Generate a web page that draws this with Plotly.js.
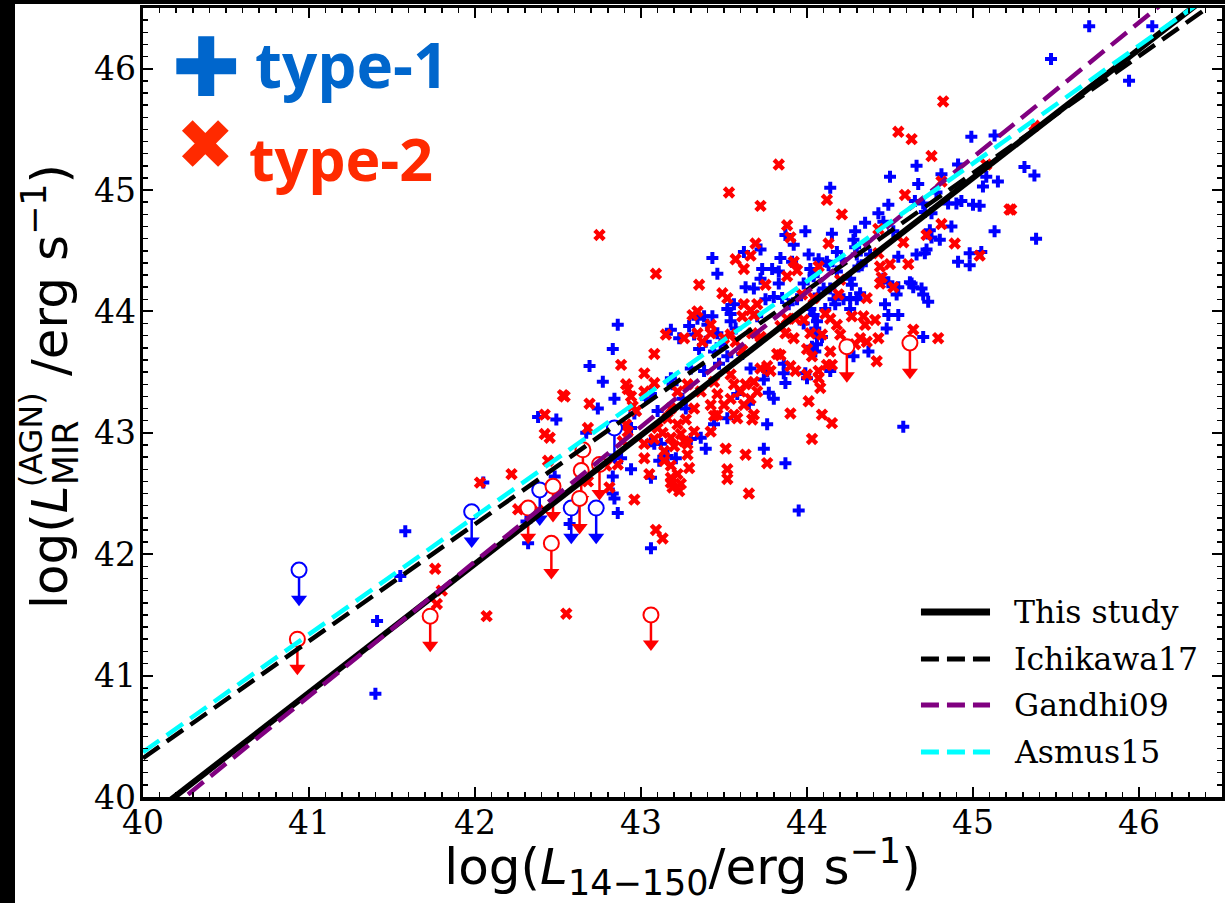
<!DOCTYPE html>
<html><head><meta charset="utf-8">
<script src="https://cdn.plot.ly/plotly-3.0.1.min.js"></script>
<style>
html,body{margin:0;padding:0;background:#000;width:1225px;height:903px;overflow:hidden;}
#chart{position:absolute;left:15px;top:4px;width:1210px;height:899px;background:#fff;}
</style></head><body><div id="chart"></div>
<script>
// ---------- data ----------
const type1X = [44.66,44.50,44.67,44.81,44.14,44.49,44.43,44.35,44.29,44.46,44.52,44.71,44.74,44.80,44.72,44.66,44.28,44.29,44.15,43.99,43.87,43.92,43.84,43.72,43.62,43.43,43.46,43.73,43.79,43.72,43.91,44.01,44.07,44.02,44.04,44.12,44.18,44.18,44.26,44.27,44.14,44.16,44.26,44.30,44.46,44.49,44.55,44.54,44.63,44.69,44.70,44.73,44.47,44.55,44.48,44.70,43.83,43.68,43.63,43.80,43.85,43.89,43.94,44.02,44.04,44.06,44.05,44.11,44.26,44.17,43.52,43.56,43.54,43.57,43.34,43.43,43.40,43.29,43.32,43.39,43.46,43.44,43.52,43.61,43.66,43.18,43.23,43.35,43.47,43.38,43.30,43.18,43.19,43.25,43.27,43.10,43.06,43.03,42.96,42.94,42.86,42.83,42.69,42.77,42.84,42.74,42.67,42.49,42.38,42.94,42.83,42.83,43.08,43.11,43.16,43.21,43.30,43.36,43.44,43.52,43.58,43.76,43.80,43.74,43.76,43.86,43.87,43.99,44.00,44.06,44.05,44.14,44.28,44.37,44.58,43.87,43.74,43.39,44.49,45.70,45.47,45.94,46.08,44.99,45.13,44.91,45.31,45.37,45.08,45.06,45.15,44.78,44.65,44.70,44.85,44.90,44.93,45.00,45.04,44.75,44.75,44.87,45.13,45.38,44.71,44.55,44.91,44.98,44.98,45.05,44.31,44.62,44.64,44.32,41.40,41.41,41.58,41.55,42.05,42.31,42.32,42.48,42.57,42.84,42.86,42.88,43.06,43.95,43.06,43.12,43.06,43.75,43.70,43.48,43.86,43.77,43.65,44.05,44.09,43.98,44.03,44.22,44.07,44.10,43.98,44.04,44.13,44.21,44.30,44.38,44.33,43.83,43.54,43.38];
const type1Y = [45.20,45.11,45.05,45.13,45.02,44.88,44.81,44.73,44.66,44.74,44.66,44.82,44.67,44.59,44.51,44.47,44.59,44.53,44.64,44.66,44.63,44.55,44.44,44.51,44.49,44.44,44.31,44.35,44.35,44.27,44.41,44.47,44.43,44.35,44.29,44.41,44.49,44.33,44.27,44.22,44.19,44.10,44.11,44.10,44.27,44.24,44.20,44.14,44.23,44.19,44.14,44.08,44.06,43.97,43.86,43.79,44.23,44.19,44.20,44.12,44.11,44.06,44.10,44.02,43.97,43.92,43.86,44.02,44.02,44.06,44.02,44.06,43.92,43.86,43.94,43.96,43.89,43.88,43.81,43.75,43.82,43.67,43.63,43.65,43.53,43.85,43.78,43.69,43.57,43.51,43.53,43.45,43.40,43.28,43.20,43.18,43.32,43.28,43.16,43.04,43.89,43.69,43.55,43.42,43.28,43.20,43.00,43.11,43.13,42.70,42.64,42.50,42.91,42.77,42.81,42.79,42.95,42.96,43.07,43.12,43.32,43.07,43.28,43.44,43.51,43.49,43.41,43.49,43.45,43.73,43.67,43.51,43.63,43.67,43.05,42.75,42.87,42.87,43.97,46.35,46.08,45.90,46.35,45.44,45.45,45.21,45.19,45.12,45.11,45.03,45.07,44.98,44.91,44.89,44.89,44.89,44.91,44.88,44.87,44.81,44.61,44.70,44.66,44.60,44.48,44.45,44.41,44.38,44.48,44.49,44.37,44.24,44.20,44.15,40.85,41.45,42.19,41.82,42.59,42.27,42.09,42.64,42.25,42.46,42.34,42.79,42.05,42.36,42.93,42.91,42.63,44.10,43.96,43.73,43.57,43.33,43.24,43.82,43.79,43.90,43.71,44.10,44.14,44.19,44.23,44.31,44.38,44.43,44.47,44.47,44.38,44.33,43.98,43.96];

const type2X = [43.83,43.53,43.72,42.75,43.09,43.35,44.12,44.21,43.88,43.90,43.69,44.13,44.59,44.75,44.81,44.81,44.72,44.58,44.61,44.50,44.44,44.45,44.52,44.36,44.44,43.57,43.62,43.66,43.75,43.88,43.92,43.94,44.07,43.97,44.04,44.20,44.19,43.49,43.52,43.62,43.70,43.61,43.68,43.66,43.31,43.34,43.15,43.08,42.88,43.42,43.42,43.26,43.34,43.37,43.50,43.54,43.57,43.67,43.72,43.61,43.84,43.88,43.93,43.98,43.87,43.92,44.02,44.11,44.14,44.18,44.20,44.09,44.27,44.34,44.35,44.41,44.32,44.29,44.36,44.43,44.42,44.64,44.79,44.00,44.03,44.14,44.12,44.15,44.07,43.84,43.90,43.93,43.76,43.78,43.72,43.68,43.70,43.66,43.63,43.54,43.56,43.60,43.54,43.50,43.56,43.58,43.68,43.67,43.62,43.44,43.46,43.42,43.36,43.44,43.42,43.32,43.28,43.22,43.18,43.16,43.22,43.10,43.13,43.08,43.18,43.24,43.26,43.20,43.14,43.14,43.18,43.22,43.18,43.19,43.24,43.23,43.28,43.29,43.02,43.02,43.05,43.51,43.63,43.76,43.52,43.52,43.65,43.46,43.90,44.09,44.15,44.03,44.01,42.69,42.54,42.42,42.42,42.45,42.68,42.22,42.44,42.91,42.92,42.91,42.92,43.02,43.08,43.02,42.53,42.94,42.95,41.76,41.80,41.77,42.07,42.03,42.26,42.55,42.38,42.81,42.86,42.79,42.96,42.89,43.09,43.13,43.18,45.37,44.55,44.63,45.08,45.22,45.23,44.43,44.43,44.89,45.04,44.00,44.07,44.08,43.82,44.82,42.68,42.97,43.27,43.32,43.28];
const type2Y = [45.21,44.98,44.87,44.63,44.31,44.22,44.92,44.80,44.71,44.61,44.56,44.56,44.96,45.28,45.07,44.72,44.63,44.57,44.39,44.39,44.37,44.28,44.20,44.11,44.23,44.43,44.35,44.46,44.22,44.29,44.41,44.34,44.37,44.14,44.11,44.26,44.14,44.15,44.11,44.06,44.06,43.96,43.97,44.01,43.97,44.00,43.81,43.65,43.56,43.89,43.82,43.78,43.82,43.75,43.78,43.81,43.75,43.82,43.79,43.68,43.88,43.94,43.94,43.93,43.82,43.78,43.82,43.98,43.94,43.89,43.81,43.81,43.96,43.96,43.89,43.93,43.78,43.73,43.75,43.78,43.59,43.85,43.78,43.69,43.63,43.67,43.56,43.56,43.51,43.64,43.55,43.51,43.55,43.51,43.53,43.42,43.34,43.28,43.40,43.48,43.40,43.34,43.28,43.23,43.15,43.12,43.15,43.11,43.23,43.42,43.32,43.23,43.34,43.14,43.01,43.20,43.40,43.34,43.20,43.12,43.07,43.04,43.00,42.95,42.96,42.99,42.93,42.89,42.85,42.77,42.73,42.66,42.59,42.55,42.58,42.52,42.82,42.71,42.91,42.79,42.66,42.87,42.82,42.75,42.70,42.62,42.50,43.15,43.16,43.15,43.08,42.95,43.26,43.24,43.30,43.15,42.99,42.96,43.04,42.66,42.77,43.40,43.36,43.07,43.01,43.34,43.41,43.49,43.31,43.30,43.22,41.88,41.70,41.59,41.49,42.59,42.37,41.51,42.36,42.55,42.74,42.73,42.45,42.93,42.20,42.13,42.63,45.53,45.48,45.42,45.21,44.84,44.84,44.68,44.48,44.56,44.46,43.48,43.45,43.37,43.65,45.73,42.60,43.18,43.11,43.01,42.91];

// upper limits (open circles with arrows)
const ulim1X = [40.94,41.98,42.39,42.58,42.73,42.84];
const ulim1Y = [41.87,42.35,42.53,42.38,42.38,43.04];
const ulim2X = [40.93,41.73,42.32,42.46,42.47,42.63,42.64,42.65,42.75,43.06,44.24,44.62];
const ulim2Y = [41.30,41.49,42.38,42.09,42.56,42.46,42.69,42.86,42.74,41.50,43.71,43.74];

// relations: logLMIR = slope * logL14-150 + intercept
const relNames = ['This study','Ichikawa17','Gandhi09','Asmus15'];
const relSlope = [1.06, 0.964, 1.11, 0.97];
const relIntercept = [-2.60, 1.76, -4.68, 1.57];
const xSpan = [40, 46.5];

const xTicks = [40,41,42,43,44,45,46];
const yTicks = [40,41,42,43,44,45,46];

// ---------- styles ----------
const BLUE = '#0000FF', RED = '#FF0000';
const relColor = ['#000000','#000000','#800080','#00FFFF'];
const relDash = ['solid','20px,9px','20px,9px','20px,9px'];
const relWidth = [6,4.5,4.5,4.5];

const traces = [];
traces.push({x:type1X, y:type1Y, type:'scatter', mode:'markers',
  marker:{symbol:'cross', size:10, color:BLUE, line:{width:0}}, hoverinfo:'skip'});
traces.push({x:type2X, y:type2Y, type:'scatter', mode:'markers',
  marker:{symbol:'x', size:11, color:RED, line:{width:0}}, hoverinfo:'skip'});

function ulTraces(X, Y, col){
  const sx=[], sy=[];
  X.forEach((x,i)=>{ sx.push(x,x,null); sy.push(Y[i], Y[i]-0.22, null); });
  traces.push({x:sx, y:sy, type:'scatter', mode:'lines', line:{color:col, width:2.5}, hoverinfo:'skip'});
  traces.push({x:X, y:Y.map(v=>v-0.24), type:'scatter', mode:'markers',
    marker:{symbol:'triangle-down', size:14, color:col, line:{width:0}}, hoverinfo:'skip'});
  traces.push({x:X, y:Y, type:'scatter', mode:'markers',
    marker:{symbol:'circle', size:15, color:'white', line:{color:col, width:2}}, hoverinfo:'skip'});
}
ulTraces(ulim1X, ulim1Y, BLUE);
ulTraces(ulim2X, ulim2Y, RED);

relNames.forEach((n,i)=>{
  traces.push({x:xSpan, y:xSpan.map(v=>relSlope[i]*v+relIntercept[i]), type:'scatter', mode:'lines',
    name:n, line:{color:relColor[i], width:relWidth[i], dash:relDash[i]}, hoverinfo:'skip'});
});

// manual legend (bottom right)
const legY = [0.2345, 0.175, 0.1166, 0.057];
const shapes = [], annotations = [];
relNames.forEach((n,i)=>{
  shapes.push({type:'line', xref:'paper', yref:'paper', x0:0.721, x1:0.785, y0:legY[i], y1:legY[i],
    line:{color:relColor[i], width:i===0?7:5, dash:i===0?'solid':'18px,8px'}});
  annotations.push({xref:'paper', yref:'paper', x:0.8054, y:legY[i], xanchor:'left', yanchor:'middle',
    text:n, showarrow:false, font:{family:'DejaVu Serif', size:31.5, color:'black'}});
});

// type labels
annotations.push({xref:'paper', yref:'paper', x:0.0584, y:0.924, xanchor:'center', yanchor:'middle',
  text:'\u271A', showarrow:false, font:{family:'DejaVu Sans', size:82, color:'#0066CC'}});
annotations.push({xref:'paper', yref:'paper', x:0.102, y:0.929, xanchor:'left', yanchor:'middle',
  text:'<b>type-1</b>', showarrow:false, font:{family:'Open Sans', size:62, color:'#0066CC'}});
annotations.push({xref:'paper', yref:'paper', x:0.0575, y:0.826, xanchor:'center', yanchor:'middle',
  text:'\u2716', showarrow:false, font:{family:'DejaVu Sans', size:70, color:'#FF2A00'}});
annotations.push({xref:'paper', yref:'paper', x:0.0964, y:0.81, xanchor:'left', yanchor:'middle',
  text:'<b>type-2</b>', showarrow:false, font:{family:'Open Sans', size:59, color:'#FF2A00'}});

// y title (stacked sub/superscript)
annotations.push({xref:'paper', yref:'paper', x:-0.086, y:0.52, xanchor:'center', yanchor:'middle',
  textangle:-90, showarrow:false,
  text:'log(<i>L</i><sub>MIR\u00A0\u00A0\u00A0\u00A0</sub>/erg s<sup>\u22121</sup>)',
  font:{family:'DejaVu Sans', size:50, color:'black'}});
annotations.push({xref:'paper', yref:'paper', x:-0.1035, y:0.4525, xanchor:'center', yanchor:'middle',
  textangle:-90, showarrow:false, text:'(AGN)',
  font:{family:'DejaVu Sans', size:32, color:'black'}});

const axisCommon = {
  range:[40,46.5], tickmode:'array', ticks:'inside', ticklen:10, tickwidth:2, tickcolor:'black',
  showline:true, linewidth:3.5, linecolor:'black', mirror:'allticks', showgrid:false, zeroline:false,
  tickfont:{family:'DejaVu Serif', size:33, color:'black'},
  minor:{dtick:0.1, tick0:40, ticks:'inside', ticklen:5, tickwidth:1.5, tickcolor:'black', showgrid:false}
};

const layout = {
  width:1210, height:899,
  margin:{l:128, r:3, t:4, b:106, pad:0},
  paper_bgcolor:'white', plot_bgcolor:'white', showlegend:false,
  xaxis:Object.assign({}, axisCommon, {tickvals:xTicks, ticktext:xTicks.map(String), ticklabelstandoff:-6,
    title:{text:'log(<i>L</i><sub>14\u2212150</sub>/erg s<sup>\u22121</sup>)', standoff:8,
      font:{family:'DejaVu Sans', size:50, color:'black'}}}),
  yaxis:Object.assign({}, axisCommon, {tickvals:yTicks, ticktext:yTicks.map(String), ticklabelstandoff:-3}),
  shapes:shapes, annotations:annotations
};

Plotly.newPlot('chart', traces, layout, {displayModeBar:false, staticPlot:true});
</script></body></html>
